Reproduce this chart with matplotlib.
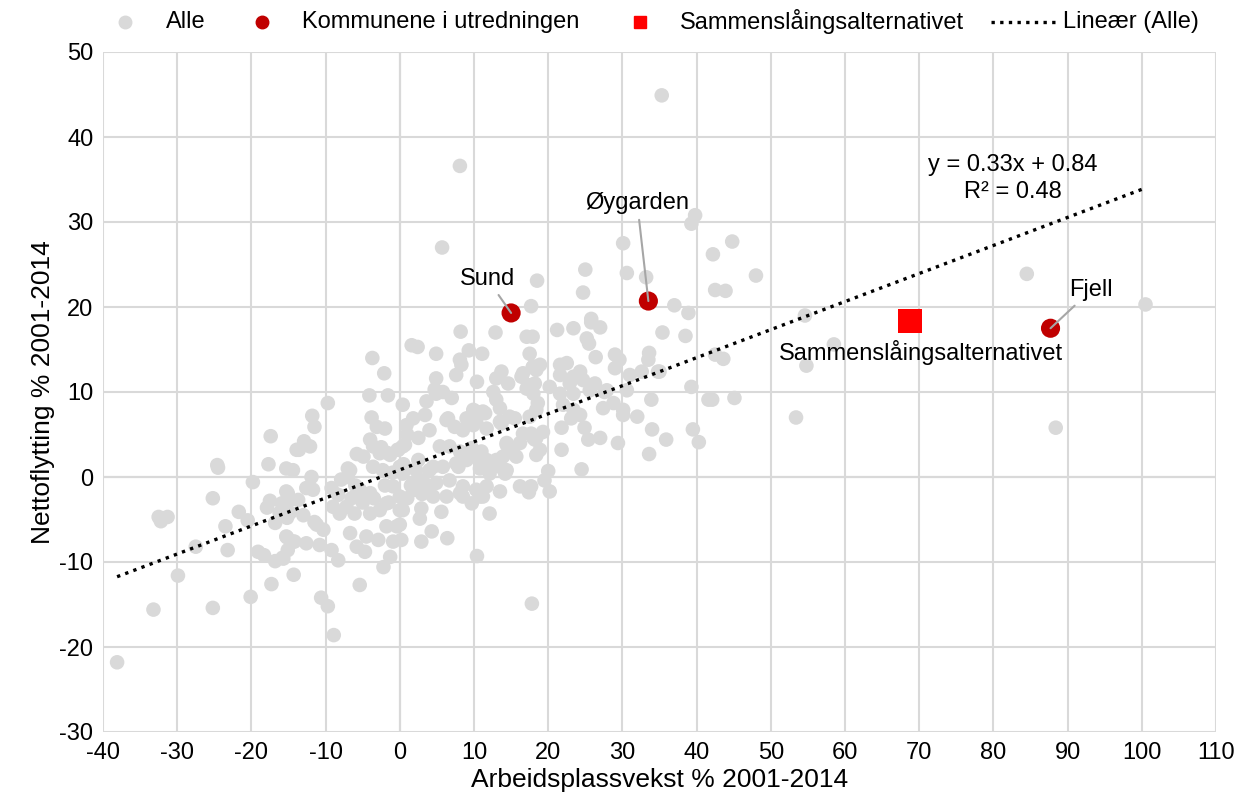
import matplotlib.pyplot as plt
from matplotlib.lines import Line2D

plt.rcParams['font.family'] = ['Liberation Sans', 'DejaVu Sans']
plt.rcParams['axes.unicode_minus'] = False

# ── data ──────────────────────────────────────
# grey points "Alle": (arbeidsplassvekst, nettoflytting)
alle_left = [
    (-38.1, -21.8), (-33.2, -15.6), (-32.5, -4.7), (-31.3, -4.7), (-32.2, -5.2),
    (-29.9, -11.6), (-27.5, -8.2), (-25.2, -2.5), (-25.2, -15.4), (-24.6, 1.4),
    (-24.5, 1.1), (-23.5, -5.8), (-23.2, -8.6), (-21.7, -4.1), (-20.5, -5.1),
    (-20.1, -14.1), (-19.8, -0.6), (-19.1, -8.8), (-18.3, -9.2), (-17.9, -3.6),
    (-17.7, 1.5), (-17.5, -2.8), (-17.4, 4.8), (-17.3, -12.6), (-16.8, -5.4),
    (-16.8, -9.9), (-16.2, -4.2), (-15.9, -3.1), (-15.8, -9.5), (-15.7, -9.6),
    (-15.3, 1.0), (-15.3, -1.7), (-15.3, -7.0), (-15.2, -4.8), (-15.2, -7.1),
    (-15.1, -1.9), (-15.1, -8.6), (-14.8, -2.7), (-14.8, -4.2), (-14.4, 0.8),
    (-14.4, -7.6), (-14.3, -11.5), (-14.2, -7.6), (-13.9, 3.2), (-13.7, -2.7),
    (-13.6, 3.2), (-13.0, -4.5), (-12.9, 4.2), (-12.6, -1.3), (-12.6, -7.8),
    (-12.1, 3.6), (-11.9, 0.0), (-11.8, 7.2), (-11.7, -1.5), (-11.5, 5.9),
    (-11.5, -5.3), (-11.2, -5.6), (-10.8, -8.0), (-10.6, -14.2), (-10.3, -6.2),
    (-9.7, 8.7), (-9.7, -15.2), (-9.2, -1.3), (-9.2, -8.6), (-9.0, -3.5),
    (-8.9, -18.6), (-8.3, -2.1), (-8.3, -9.8), (-8.1, -4.3), (-7.9, -0.3),
    (-7.2, -3.5), (-7.0, 1.0), (-7.0, 0.0), (-6.7, -6.6), (-6.7, 0.8),
    (-6.5, -2.5), (-6.1, -4.3), (-6.0, -1.0), (-5.8, 2.7), (-5.8, -8.2),
    (-5.4, -1.5), (-5.4, -12.7), (-5.0, -3.0), (-4.9, 2.4), (-4.7, -8.8),
    (-4.5, -7.0), (-4.1, 9.6), (-4.0, 4.4), (-4.0, -1.9), (-4.0, -4.3),
    (-3.8, 7.0), (-3.7, 14.0), (-3.6, 3.6), (-3.6, 1.2), (-3.5, -2.5),
    (-3.1, 5.9), (-2.9, -7.4), (-2.7, 2.8), (-2.7, -3.9), (-2.5, 3.5),
    (-2.3, 0.8), (-2.2, -10.6), (-2.1, 12.2), (-2.0, 5.7), (-2.0, -1.0),
    (-1.8, -3.1), (-1.8, -5.8), (-1.6, 9.6), (-1.6, 2.8), (-1.5, -3.0),
    (-1.3, 2.6), (-1.3, -9.4), (-1.0, 0.5), (-0.9, -7.6), (-0.9, -1.1),
    (-0.4, -5.8), (-0.3, 3.2), (-0.2, 3.2),
]
alle_mid = [
    (0.0, -3.9), (0.0, -2.3), (0.0, 1.2), (0.0, -5.6), (0.2, -7.4), (0.4, 8.5),
    (0.4, 0.4), (0.4, 3.6), (0.4, -3.9), (0.5, 1.5), (0.7, 3.8), (0.9, 6.1),
    (1.0, -2.5), (1.0, 5.0), (1.5, -1.0), (1.6, 15.5), (1.8, 6.9), (1.8, -0.7),
    (2.0, -1.5), (2.2, 0.8), (2.4, 15.3), (2.5, 4.6), (2.5, 2.0), (2.7, -4.9),
    (2.9, -3.7), (2.9, -7.6), (3.0, -2.0), (3.1, -0.4), (3.4, 7.3), (3.6, 8.9),
    (3.6, -1.5), (4.0, 5.5), (4.0, 0.8), (4.3, -6.4), (4.5, 1.2), (4.5, -2.3),
    (4.7, 10.3), (4.9, 11.6), (4.9, 9.8), (4.9, 14.5), (4.9, -0.7), (5.4, 3.6),
    (5.6, -4.1), (5.7, 27.0), (5.8, 10.0), (5.8, 1.2), (6.3, 6.7), (6.3, -2.3),
    (6.4, -7.2), (6.5, 6.9), (6.7, 3.6), (6.7, -0.4), (7.0, 9.3), (7.4, 5.9),
    (7.6, 12.0), (7.6, 1.6), (7.9, 1.2), (8.1, 36.6), (8.1, 13.8), (8.1, 3.0),
    (8.1, -1.9), (8.2, 17.1), (8.3, 13.2), (8.5, 5.5), (8.5, -1.1), (8.5, -2.3),
    (9.0, 6.9), (9.0, 2.0), (9.3, 14.9), (9.4, 2.4), (9.7, 3.4), (9.7, -3.1),
    (9.9, 6.1), (9.9, 7.9), (10.3, 7.7), (10.3, 6.5), (10.3, -1.5), (10.4, 11.2),
    (10.4, -9.3), (10.8, 1.0), (10.8, 2.0), (10.8, -2.3), (11.0, 3.0), (11.1, 14.5),
    (11.2, 7.7), (11.2, -2.3), (11.5, 7.5), (11.7, 5.7), (11.7, 2.0), (11.7, -1.1),
    (12.1, 0.4), (12.1, 1.6), (12.1, -4.3), (12.6, 10.0), (12.9, 17.0), (13.0, 11.6),
    (13.0, 2.0), (13.0, 9.1), (13.5, 1.2), (13.5, 6.5), (13.5, -1.7), (13.5, 8.1),
    (13.7, 12.4), (13.7, 6.3), (13.9, 2.4), (14.2, 0.4), (14.4, 0.8), (14.4, 4.0),
    (14.4, 3.8), (14.6, 11.0), (14.8, 7.1), (15.0, 3.0), (15.3, 2.8), (15.5, 6.9),
    (15.7, 2.4), (16.2, 4.0), (16.2, -1.1), (16.4, 11.8), (16.6, 5.1), (16.6, 12.2),
    (17.1, 16.5), (17.1, 10.4), (17.3, 10.8), (17.4, -1.8), (17.5, 7.1), (17.5, -1.3),
    (17.5, 14.5), (17.7, 20.1), (17.7, 5.1), (17.7, -1.1), (17.8, -14.9), (17.9, 12.9),
    (17.9, 16.5), (18.0, 13.0), (18.0, 4.6), (18.0, 9.8), (18.2, 11.0), (18.2, 4.4),
    (18.4, 12.6), (18.4, 2.6), (18.4, 7.9), (18.4, 4.6), (18.5, 23.1), (18.6, 8.7),
    (18.9, 13.2), (18.9, 3.2), (19.3, 5.3), (19.5, -0.4), (20.0, 0.7), (20.2, 10.6),
    (20.2, -1.7),
]
alle_right = [
    (21.2, 17.3), (21.6, 13.2), (21.6, 12.0), (21.6, 9.8), (21.8, 5.8), (21.8, 3.2),
    (22.0, 8.5), (22.5, 13.4), (22.9, 11.0), (23.1, 6.9), (23.4, 17.5), (23.4, 11.8),
    (23.4, 9.8), (23.4, 7.9), (24.3, 12.4), (24.3, 7.3), (24.5, 0.9), (24.7, 21.7),
    (24.7, 11.4), (24.9, 5.8), (25.0, 24.4), (25.2, 16.3), (25.4, 4.4), (25.5, 15.7),
    (25.6, 10.2), (25.8, 18.2), (25.8, 18.6), (26.3, 11.0), (26.4, 14.1), (27.0, 17.6),
    (27.0, 4.6), (27.4, 8.1), (27.6, 10.0), (27.9, 10.2), (28.8, 8.7), (29.0, 14.4),
    (29.0, 12.8), (29.4, 4.0), (29.6, 13.8), (30.1, 27.5), (30.1, 7.9), (30.1, 7.3),
    (30.6, 24.0), (30.6, 10.2), (31.0, 12.0), (32.0, 7.1), (32.6, 12.4), (33.2, 23.5),
    (33.6, 14.6), (33.5, 13.8), (33.6, 2.7), (33.9, 9.1), (34.0, 5.6), (34.8, 12.4),
    (35.0, 12.4), (35.3, 44.9), (35.4, 17.0), (35.9, 4.4), (37.0, 20.2), (38.5, 16.6),
    (38.9, 19.3), (39.3, 29.8), (39.3, 10.6), (39.5, 5.6), (39.8, 30.8), (40.3, 4.1),
    (41.6, 9.1), (42.1, 9.1), (42.2, 26.2), (42.5, 14.4), (42.5, 22.0), (43.6, 13.9),
    (43.9, 21.9), (44.8, 27.7), (45.1, 9.3), (48.0, 23.7), (53.4, 7.0), (54.6, 19.0),
    (54.8, 13.1), (58.5, 15.6), (84.5, 23.9), (88.4, 5.8), (100.5, 20.3),
]
alle = alle_left + alle_mid + alle_right
alle_x = [p[0] for p in alle]
alle_y = [p[1] for p in alle]

komm_names = ["Sund", "Øygarden", "Fjell"]
komm_x = [15.0, 33.5, 87.7]
komm_y = [19.3, 20.7, 17.5]

samm_name = "Sammenslåingsalternativet"
samm_x = [68.7]
samm_y = [18.3]

slope, intercept, r2 = 0.33, 0.84, 0.48
trend_x = [-38.1, 100.5]
trend_y = [slope * v + intercept for v in trend_x]

xticks = list(range(-40, 111, 10))
yticks = list(range(-30, 51, 10))

FS = 17
W, H = 1238, 807
DOTS = (0, (1, 1.6))

# ── figure ────────────────────────────────────
fig = plt.figure(figsize=(W / 100, H / 100), dpi=100)
ax = fig.add_axes([103 / W, 1 - 732 / H, (1216 - 103) / W, (732 - 52) / H])

ax.scatter(alle_x, alle_y, s=110, color="#d9d9d9", edgecolors="none", zorder=3)
ax.plot(trend_x, trend_y, linestyle=DOTS, color="black", lw=2.4, zorder=4)
ax.scatter(samm_x, samm_y, s=300, marker="s", color="#ff0000", edgecolors="none", zorder=5)
ax.scatter(komm_x, komm_y, s=190, color="#c00000", edgecolors="none", zorder=5)

ax.set_xlim(-40, 110)
ax.set_ylim(-30, 50)
ax.set_xticks(xticks)
ax.set_yticks(yticks)
ax.tick_params(length=0, labelsize=FS, pad=7)
ax.grid(True, color="#d9d9d9", lw=1.5, zorder=0)
ax.axvline(0, color="#bfbfbf", lw=1.5, zorder=1)
ax.axhline(0, color="#bfbfbf", lw=1.5, zorder=1)
for sp in ax.spines.values():
    sp.set_visible(False)

ax.set_xlabel("Arbeidsplassvekst % 2001-2014", fontsize=19, labelpad=3)
ax.set_ylabel("Nettoflytting % 2001-2014", fontsize=19, labelpad=3)

# labels with leader lines
ann = dict(fontsize=FS, ha="center", va="center", zorder=6,
           arrowprops=dict(arrowstyle="-", color="#a6a6a6", lw=1.5, shrinkA=2, shrinkB=0))
ax.annotate(komm_names[0], xy=(komm_x[0], komm_y[0]), xytext=(11.8, 23.3), **ann)
ax.annotate(komm_names[1], xy=(komm_x[1], komm_y[1]), xytext=(32.0, 32.2), **ann)
ax.annotate(komm_names[2], xy=(komm_x[2], komm_y[2]), xytext=(93.2, 22.0), **ann)
ax.text(70.2, 14.6, samm_name, fontsize=FS, ha="center", va="center", zorder=6)

ax.text(82.6, 36.7, f"y = {slope:.2f}x + {intercept:.2f}", fontsize=FS,
        ha="center", va="center", zorder=6)
ax.text(82.6, 33.5, f"R² = {r2:.2f}", fontsize=FS, ha="center", va="center", zorder=6)

# legend, placed like the original (pixel positions along the top)
ly = 1 - 22 / H
fig.add_artist(Line2D([125 / W], [ly], marker="o", ls="none", color="#d9d9d9", markersize=9))
fig.add_artist(Line2D([262 / W], [ly], marker="o", ls="none", color="#c00000", markersize=9))
fig.add_artist(Line2D([640 / W], [ly], marker="s", ls="none", color="#ff0000", markersize=8))
fig.add_artist(Line2D([991 / W, 1057 / W], [ly, ly], ls=DOTS, color="black", lw=2.4))
for x0, txt in [(166, "Alle"), (302, "Kommunene i utredningen"), (680, samm_name),
                (1063, "Lineær (Alle)")]:
    fig.text(x0 / W, ly, txt, fontsize=FS, ha="left", va="center")

fig.savefig("out.png", dpi=100)
